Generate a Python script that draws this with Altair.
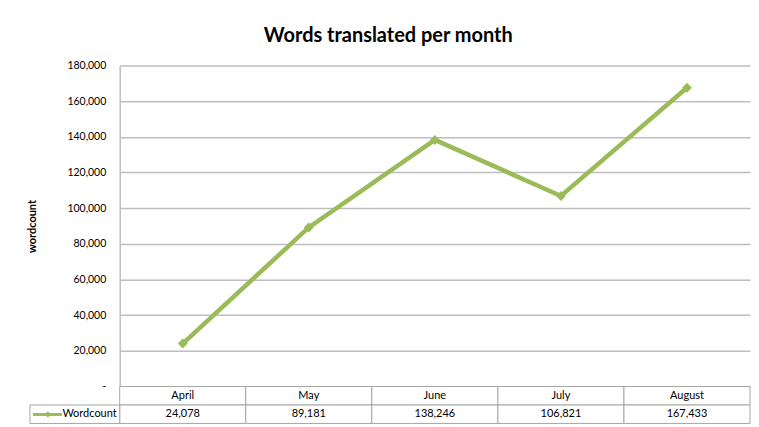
import altair as alt
import pandas as pd

months = ["April", "May", "June", "July", "August"]
wordcount = [24078, 89181, 138246, 106821, 167433]
series_name = "Wordcount"
y_ticks = [0, 20000, 40000, 60000, 80000, 100000, 120000, 140000, 160000, 180000]

GREEN = "#9BBB59"
GRID = "#BEBEBE"
BORDER = "#A6A6A6"
FONT = "Lato"

df = pd.DataFrame({"month": months, "wordcount": wordcount})
labels = [f"{v:,}" for v in wordcount]

W = 632
H = 322

x_point = alt.X("month:N", sort=months, scale=alt.Scale(type="point", padding=0.5), axis=None)
y_enc = alt.Y(
    "wordcount:Q",
    scale=alt.Scale(domain=[0, 180000], nice=False, zero=True),
    axis=alt.Axis(
        values=y_ticks,
        tickCount=10,
        labelExpr="datum.value == 0 ? '-' : format(datum.value, ',')",
        labelOverlap=False, labelFlush=False,
        grid=True, gridColor=GRID, gridWidth=1.5,
        domainColor=GRID, domainWidth=1.5,
        ticks=False, labelPadding=14,
        labelFont=FONT, labelFontSize=10.5, labelColor="#000000",
        title="wordcount", titleFont=FONT, titleFontSize=11, titleFontWeight="bold",
        titleColor="#000000", titlePadding=30,
    ),
)

base = alt.Chart(df).encode(x=x_point, y=y_enc)
line = base.mark_line(color=GREEN, strokeWidth=4.5)
pts = base.mark_point(shape="diamond", filled=True, color=GREEN, size=100, opacity=1)
top = (line + pts).properties(width=W, height=H)

cells = pd.DataFrame({
    "month": months + months,
    "row": ["h"] * len(months) + ["v"] * len(months),
    "text": months + labels,
})
x_band = alt.X("month:N", sort=months, scale=alt.Scale(paddingInner=0, paddingOuter=0), axis=None)
y_band = alt.Y("row:N", sort=["h", "v"], scale=alt.Scale(paddingInner=0, paddingOuter=0), axis=None)

rects = alt.Chart(cells).mark_rect(fill="white", stroke=BORDER, strokeWidth=1).encode(x=x_band, y=y_band)
texts = alt.Chart(cells).mark_text(font=FONT, fontSize=11, color="#000000").encode(
    x=x_band, y=y_band, text="text:N"
)

leg = pd.DataFrame({"name": [series_name]})
leg_rect = alt.Chart(leg).mark_rect(fill="white", stroke=BORDER, strokeWidth=1).encode(
    x=alt.value(-90), x2=alt.value(0), y=alt.value(18.5), y2=alt.value(37)
)
leg_line = alt.Chart(leg).mark_rule(color=GREEN, strokeWidth=3).encode(
    x=alt.value(-87), x2=alt.value(-58), y=alt.value(28)
)
leg_pt = alt.Chart(leg).mark_point(shape="diamond", filled=True, color=GREEN, size=40, opacity=1).encode(
    x=alt.value(-72), y=alt.value(28)
)
leg_text = alt.Chart(leg).mark_text(font=FONT, fontSize=11, color="#000000", align="right").encode(
    x=alt.value(-3), y=alt.value(28), text="name:N"
)

bottom = (rects + texts + leg_rect + leg_line + leg_pt + leg_text).properties(width=W, height=37)

chart = alt.vconcat(top, bottom, spacing=0, bounds="flush").properties(
    title=alt.TitleParams(
        "Words translated per month", font=FONT, fontSize=20, fontWeight="bold",
        color="#000000", anchor="middle", offset=14,
    ),
    padding={"left": 18, "top": 18, "right": 0, "bottom": 0},
).configure_view(stroke=None)

chart.save("out.html", embed_options={"renderer": "svg", "actions": False})
